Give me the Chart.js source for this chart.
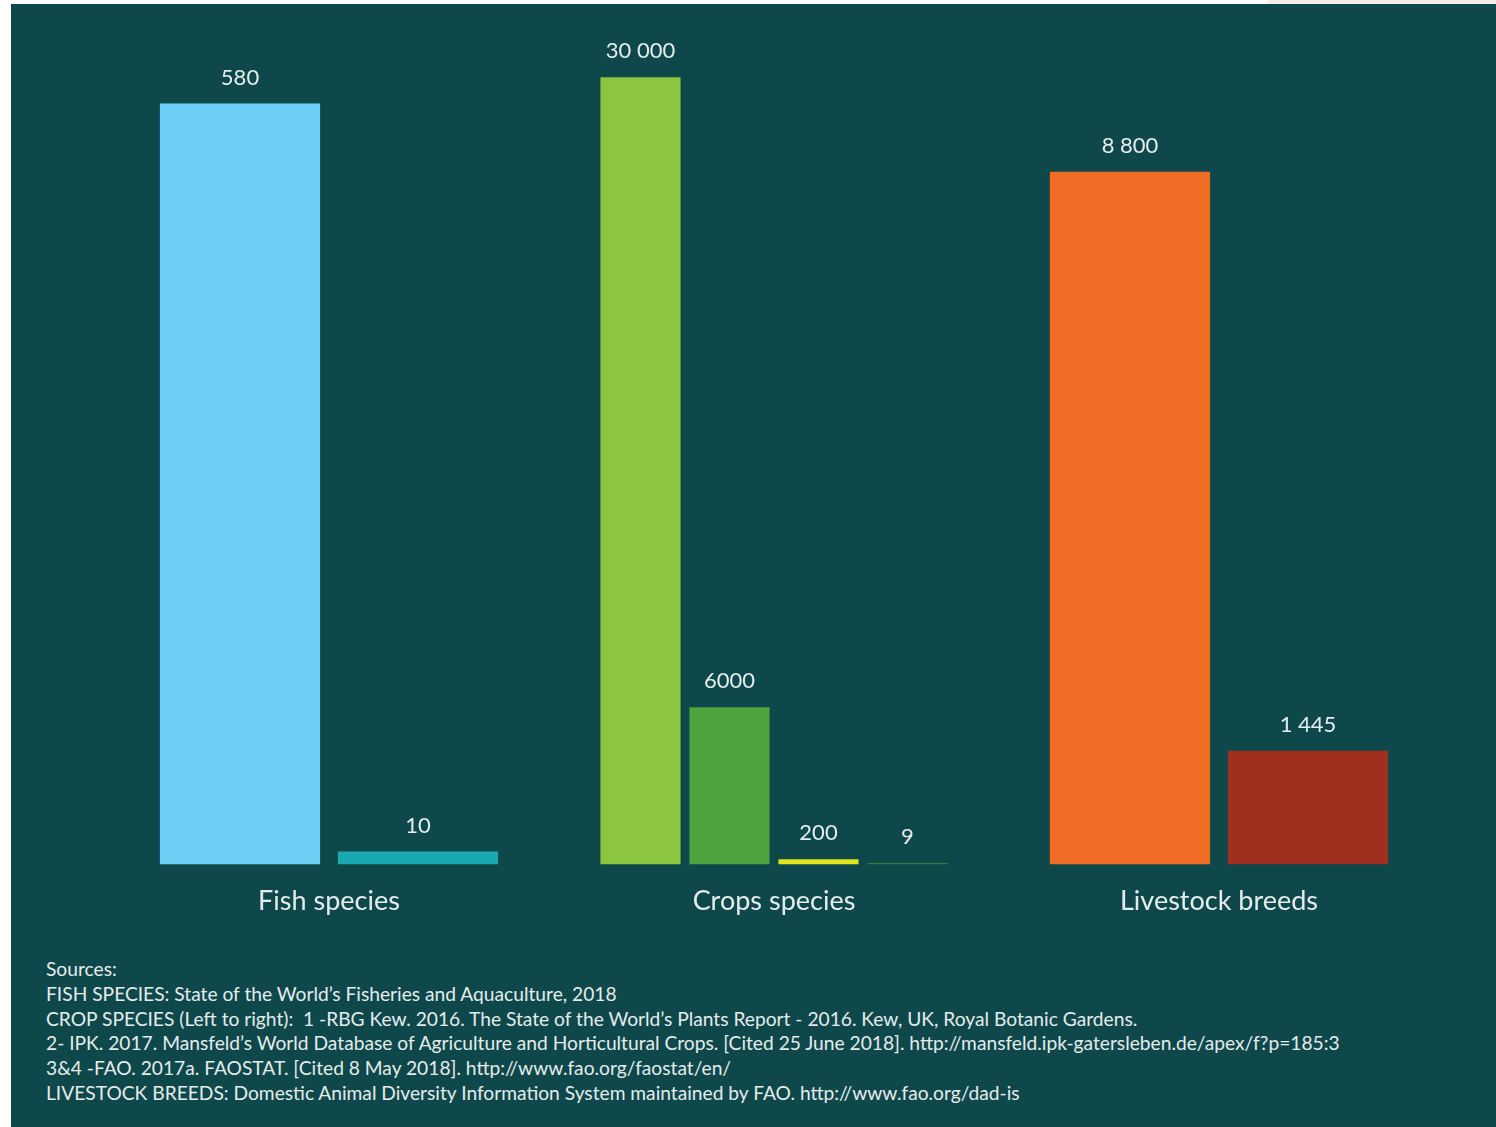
<!DOCTYPE html>
<html>
<head>
<meta charset="utf-8">
<title>Species and breeds</title>
<script src="https://cdn.jsdelivr.net/npm/chart.js@4.4.1/dist/chart.umd.min.js"></script>
<style>
  body { margin: 0; background: #ffffff; width: 1496px; height: 1127px; overflow: hidden; position: relative; font-family: Lato, "Open Sans", sans-serif; }
  #panel { position: absolute; left: 11px; top: 4px; width: 1485px; height: 1123px; background: #0f484b; }
  #topstrip { position: absolute; left: 1268px; top: 0; width: 228px; height: 4px; background: #f3eeea; }
  #chartBox { position: absolute; left: 12px; top: 4px; width: 1484px; height: 940px; }
  #sources { position: absolute; left: 46px; top: 957px; color: #e4ecec; font-size: 19.2px; line-height: 24.8px; white-space: nowrap; }
</style>
</head>
<body>
<div id="topstrip"></div>
<div id="panel"></div>
<div id="chartBox"><canvas id="speciesChart"></canvas></div>
<div id="sources">
  Sources:<br>
  FISH SPECIES: State of the World’s Fisheries and Aquaculture, 2018<br>
  CROP SPECIES (Left to right):&nbsp; 1 -RBG Kew. 2016. The State of the World’s Plants Report - 2016. Kew, UK, Royal Botanic Gardens.<br>
  2- IPK. 2017. Mansfeld’s World Database of Agriculture and Horticultural Crops. [Cited 25 June 2018]. http://mansfeld.ipk-gatersleben.de/apex/f?p=185:3<br>
  3&amp;4 -FAO. 2017a. FAOSTAT. [Cited 8 May 2018]. http://www.fao.org/faostat/en/<br>
  LIVESTOCK BREEDS: Domestic Animal Diversity Information System maintained by FAO. http://www.fao.org/dad-is
</div>
<script>
const categories = ['Fish species', 'Crops species', 'Livestock breeds'];

const fishValues = [580, 10];
const cropValues = [30000, 6000, 200, 9];
const livestockValues = [8800, 1445];

const fishLabels = ['580', '10'];
const cropLabels = ['30 000', '6000', '200', '9'];
const livestockLabels = ['8 800', '1 445'];

const fishColors = ['#6dcff6', '#1aa9b0'];
const cropColors = ['#8cc63f', '#4fa33f', '#e2e51c', '#3b7d3c'];
const livestockColors = ['#f06c24', '#a12f1f'];

const textColor = '#e4ecec';

// each group has its own scale in the original graphic
const groups = [
    { values: fishValues, labels: fishLabels, colors: fishColors, axis: 'yFish', max: 636 },
    { values: cropValues, labels: cropLabels, colors: cropColors, axis: 'yCrops', max: 31800 },
    { values: livestockValues, labels: livestockLabels, colors: livestockColors, axis: 'yLive', max: 10600 }
];

const datasets = [];
groups.forEach((g, gi) => {
    g.values.forEach((v, i) => {
        const data = categories.map((c, ci) => ci === gi ? v : null);
        datasets.push({
            label: categories[gi] + ' ' + (i + 1),
            data: data,
            valueLabel: g.labels[i],
            yAxisID: g.axis,
            backgroundColor: g.colors[i],
            borderWidth: 0,
            skipNull: true,
            minBarLength: v < 20 && gi === 1 ? 1.5 : 0
        });
    });
});

const scales = {
    x: {
        grid: { display: false, drawTicks: false },
        border: { display: false },
        ticks: {
            color: textColor,
            padding: 20,
            font: { family: 'Lato', size: 27 }
        }
    }
};
groups.forEach(g => {
    scales[g.axis] = { display: false, min: 0, max: g.max };
});

const valueLabelPlugin = {
    id: 'valueLabels',
    afterDatasetsDraw(chart) {
        const ctx = chart.ctx;
        ctx.save();
        ctx.fillStyle = textColor;
        ctx.font = '22px Lato';
        ctx.textAlign = 'center';
        ctx.textBaseline = 'middle';
        chart.data.datasets.forEach((ds, di) => {
            const meta = chart.getDatasetMeta(di);
            meta.data.forEach((bar, idx) => {
                if (ds.data[idx] === null) return;
                const top = Math.min(bar.y, bar.base);
                ctx.fillText(ds.valueLabel, bar.x, top - 26);
            });
        });
        ctx.restore();
    }
};

new Chart(document.getElementById('speciesChart'), {
    type: 'bar',
    data: { labels: categories, datasets: datasets },
    options: {
        responsive: true,
        maintainAspectRatio: false,
        animation: false,
        layout: { padding: { left: 94.5, right: 54.5, top: 26, bottom: 7 } },
        plugins: {
            legend: { display: false },
            tooltip: { enabled: false }
        },
        scales: scales
    },
    plugins: [valueLabelPlugin]
});
</script>
</body>
</html>
